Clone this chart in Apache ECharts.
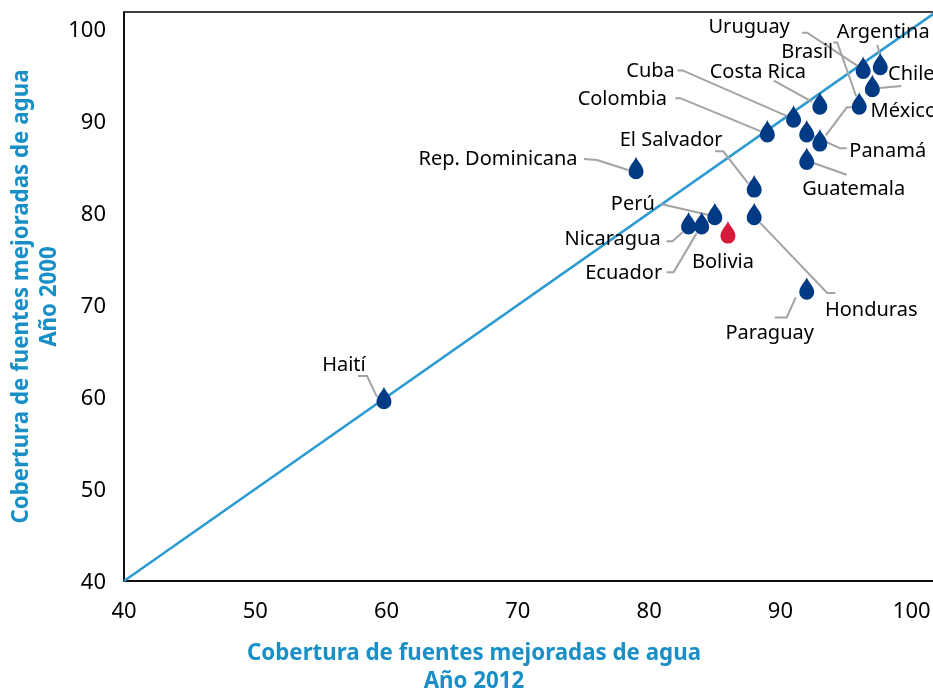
<!DOCTYPE html>
<html>
<head>
<meta charset="utf-8">
<title>Cobertura de fuentes mejoradas de agua</title>
<style>
html, body { margin: 0; padding: 0; background: #fff; overflow: hidden; }
#chart { width: 933px; height: 692px; }
</style>
<script src="https://cdn.jsdelivr.net/npm/echarts@6/dist/echarts.min.js"></script>
</head>
<body>
<div id="chart"></div>
<script>
// datos
var paises = ["Haití", "Rep. Dominicana", "Perú", "Nicaragua", "Ecuador", "Bolivia", "Honduras", "Paraguay", "El Salvador", "Guatemala", "Panamá", "México", "Colombia", "Cuba", "Costa Rica", "Brasil", "Uruguay", "Chile", "Argentina"];
var anio2012 = [59.8, 79, 85, 83, 84, 86, 88, 92, 88, 92, 92, 93, 89, 91, 93, 96, 96.3, 97, 97.6];
var anio2000 = [59.9, 84.9, 79.9, 78.9, 78.9, 77.9, 79.9, 71.8, 82.9, 85.9, 88.9, 87.9, 88.9, 90.5, 91.9, 91.9, 95.8, 93.8, 96.2];
var paisDestacado = "Bolivia";
var diagonal = [40, 102];
var ticksEje = [40, 50, 60, 70, 80, 90, 100];
var tituloX = "Cobertura de fuentes mejoradas de agua\nAño 2012";
var tituloY = "Cobertura de fuentes mejoradas de agua\nAño 2000";

// posicion de cada etiqueta y su guia, en px relativos a la gota
var etiquetas = {
    "Haití":           {t: [-40, -33],  g: [[-26, -22], [-17, -22], [-7, -1]]},
    "Rep. Dominicana": {t: [-138, -9],  g: [[-52, -9], [-39, -8], [-8, 2]]},
    "Perú":            {t: [-82, -10],  g: [[-54, -10], [-6, 1]]},
    "Nicaragua":       {t: [-76, 16],   g: [[-22, 18], [-16, 18], [-6, 9]]},
    "Ecuador":         {t: [-78, 50],   g: [[-35, 49], [-28, 49], [-5, 10]]},
    "Bolivia":         {t: [-5, 30],    g: []},
    "Honduras":        {t: [117, 96],   g: [[81, 79], [73, 79], [6, 9]]},
    "Paraguay":        {t: [-37, 45],   g: [[-32, 29], [-20, 29], [-11, 9]]},
    "El Salvador":     {t: [-83, -46],  g: [[-39, -35], [-31, -35], [-6, -3]]},
    "Guatemala":       {t: [47, 31],    g: [[40, 16], [6, 4]]},
    "Panamá":          {t: [81, 20],    g: [[40, 17], [33, 17], [5, 4]]},
    "México":          {t: [84, -29],   g: [[32, -33], [27, -33], [6, -5]]},
    "Colombia":        {t: [-145, -32], g: [[-92, -33], [-87, -33], [-7, 0]]},
    "Cuba":            {t: [-143, -45], g: [[-116, -46], [-111, -46], [-6, 0]]},
    "Costa Rica":      {t: [-62, -31],  g: [[-46, -23], [-8, -2]]},
    "Brasil":          {t: [-52, -51],  g: [[-26, -61], [-22, -61], [-3, -7]]},
    "Uruguay":         {t: [-114, -40], g: [[-61, -35], [-56, -35], [-6, -2]]},
    "Chile":           {t: [39, -12],   g: [[29, 0], [7, 2]]},
    "Argentina":       {t: [3, -32],    g: [[-3, -19], [0, -9]]}
};

var GOTA = "path://M7.5,0 C8.5,4 15,9 15,15 A7.5,7.5 0 0 1 0,15 C0,9 6.5,4 7.5,0 Z";
var fuente = '"Noto Sans", sans-serif';

var puntos = [];
for (var i = 0; i < paises.length; i++) {
    puntos.push({
        value: [anio2012[i], anio2000[i], i],
        itemStyle: {opacity: 1, color: paises[i] == paisDestacado ? "#d61a3c" : "#003a85"}
    });
}

var ejeComun = {
    type: "value",
    min: 40,
    interval: 10,
    axisLine: {show: true, onZero: false, lineStyle: {color: "#000", width: 1.5}},
    axisTick: {show: false},
    splitLine: {show: false},
    axisLabel: {
        color: "#000",
        fontFamily: fuente,
        fontSize: 22,
        customValues: ticksEje
    }
};

function dibujaEtiqueta(params, api) {
    var nombre = paises[api.value(2)];
    var p = api.coord([api.value(0), api.value(1)]);
    var e = etiquetas[nombre];
    var hijos = [];
    if (e.g.length) {
        hijos.push({
            type: "polyline",
            shape: {points: e.g.map(function (o) { return [p[0] + o[0], p[1] + o[1]]; })},
            style: {stroke: "#a3a3a3", lineWidth: 2, fill: null},
            z2: 1
        });
    }
    return {type: "group", children: hijos};
}

function dibujaTexto(params, api) {
    var nombre = paises[api.value(2)];
    var p = api.coord([api.value(0), api.value(1)]);
    var e = etiquetas[nombre];
    return {
        type: "text",
        x: p[0] + e.t[0],
        y: p[1] + e.t[1],
        style: {
            text: nombre,
            fill: "#000",
            font: '20px ' + fuente,
            textAlign: "center",
            textVerticalAlign: "middle"
        }
    };
}

var option = {
    animation: false,
    backgroundColor: "#fff",
    grid: {
        left: 124,
        top: 12,
        width: 814,
        height: 569,
        outerBoundsMode: "none",
        show: true,
        borderColor: "#000",
        borderWidth: 1.5,
        backgroundColor: "transparent"
    },
    xAxis: Object.assign({}, ejeComun, {
        max: 102,
        axisLabel: Object.assign({}, ejeComun.axisLabel, {margin: 20})
    }),
    yAxis: Object.assign({}, ejeComun, {
        max: 101.85,
        axisLabel: Object.assign({}, ejeComun.axisLabel, {margin: 18, verticalAlign: "top", lineHeight: 4}),
        name: tituloY,
        nameLocation: "middle",
        nameGap: 60,
        nameMoveOverlap: false,
        nameTextStyle: {
            color: "#1a8fc6",
            fontFamily: fuente,
            fontWeight: "bold",
            fontSize: 22.3,
            lineHeight: 28
        }
    }),
    graphic: [{
        type: "text",
        left: 247,
        top: 640,
        style: {
            text: tituloX,
            fill: "#1a8fc6",
            font: 'bold 22.3px ' + fuente,
            lineHeight: 28,
            textAlign: "center",
            width: 454
        }
    }],
    series: [
        {
            type: "line",
            data: [[diagonal[0], diagonal[0]], [diagonal[1], diagonal[1]]],
            showSymbol: false,
            lineStyle: {color: "#2b9ad0", width: 2.5},
            z: 1
        },
        {
            type: "custom",
            coordinateSystem: "cartesian2d",
            clip: false,
            renderItem: dibujaEtiqueta,
            data: puntos.map(function (d) { return d.value; }),
            z: 2
        },
        {
            type: "scatter",
            symbol: GOTA,
            symbolSize: [15, 22.5],
            data: puntos,
            z: 3
        },
        {
            type: "custom",
            coordinateSystem: "cartesian2d",
            clip: false,
            renderItem: dibujaTexto,
            data: puntos.map(function (d) { return d.value; }),
            z: 4
        }
    ]
};

var chart = echarts.init(document.getElementById("chart"));
chart.setOption(option);
</script>
</body>
</html>
